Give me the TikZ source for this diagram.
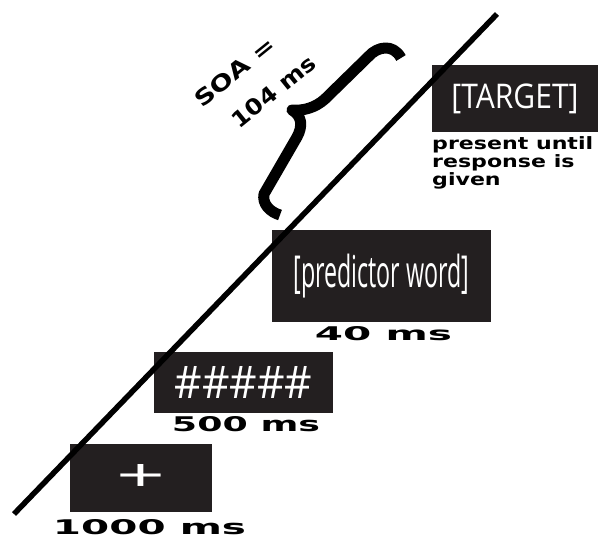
\documentclass[tikz,border=0pt]{standalone}
\usepackage{fontspec}
\setmainfont{DejaVu Sans}
\newfontfamily\boxfont{Open Sans}
\definecolor{boxdark}{RGB}{35,31,32}
\begin{document}
\begin{tikzpicture}[x=1pt,y=-1pt,
  stim/.style={fill=boxdark, inner sep=0pt, text=white, font=\boxfont},
  dur/.style={inner sep=0pt, font=\fontsize{20}{20}\selectfont\bfseries},
  soa/.style={inner sep=0pt, rotate=39, font=\fontsize{22}{22}\selectfont\bfseries},
  timeline/.style={line width=5.5pt},
  bracestyle/.style={line width=11pt, line join=round},
]
\useasboundingbox (0,0) rectangle (598,538);
% stimulus screens
\node[stim, minimum width=142pt, minimum height=68pt] (fix) at (141,478) {\resizebox*{49pt}{27pt}{+}};
\node[stim, minimum width=179pt, minimum height=61pt] (mask) at (243.5,382.5) {\resizebox*{138pt}{32pt}{\#\#\#\#\#}};
\node[stim, minimum width=219pt, minimum height=92pt] (prime) at (381.5,276) {\resizebox*{176pt}{44pt}{[predictor word]}};
\node[stim, minimum width=166pt, minimum height=67pt] (target) at (515,98.5) {\resizebox*{127pt}{30pt}{[TARGET]}};
% durations
\node[dur] (d1) at (149.5,527) {\resizebox{193pt}{15pt}{1000 ms}};
\node[dur] (d2) at (246,424.5) {\resizebox{148pt}{15pt}{500 ms}};
\node[dur] (d3) at (383.5,334) {\resizebox{137pt}{14pt}{40 ms}};
\node[inner sep=0pt, anchor=north west] (note) at (432,136) {\scalebox{1.3}[1]{\fontsize{17}{17}\selectfont\bfseries\begin{tabular}{@{}l@{}}present until\\response is\\given\end{tabular}}};
% time line
\coordinate (lstart) at (14,514);
\coordinate (lend) at (497,14);
\draw[timeline] (lstart) -- (lend);
% SOA brace
\coordinate (bb) at (280,215);
\coordinate (bcusp) at (292,110);
\coordinate (bt) at (401,58);
\draw[bracestyle] (bb) .. controls (270,212) and (262,204) .. (264,194)
  -- (297,137) .. controls (303,126) and (302,116) .. (bcusp)
  .. controls (303,111) and (315,108) .. (325,99)
  -- (369,56) .. controls (377,47) and (393,43) .. (bt);
\node[soa] (soa1) at (235,72) {\scalebox{1.25}[1]{SOA =}};
\node[soa] (soa2) at (273.5,91.5) {\scalebox{1.12}[1]{104 ms}};
\end{tikzpicture}
\end{document}
